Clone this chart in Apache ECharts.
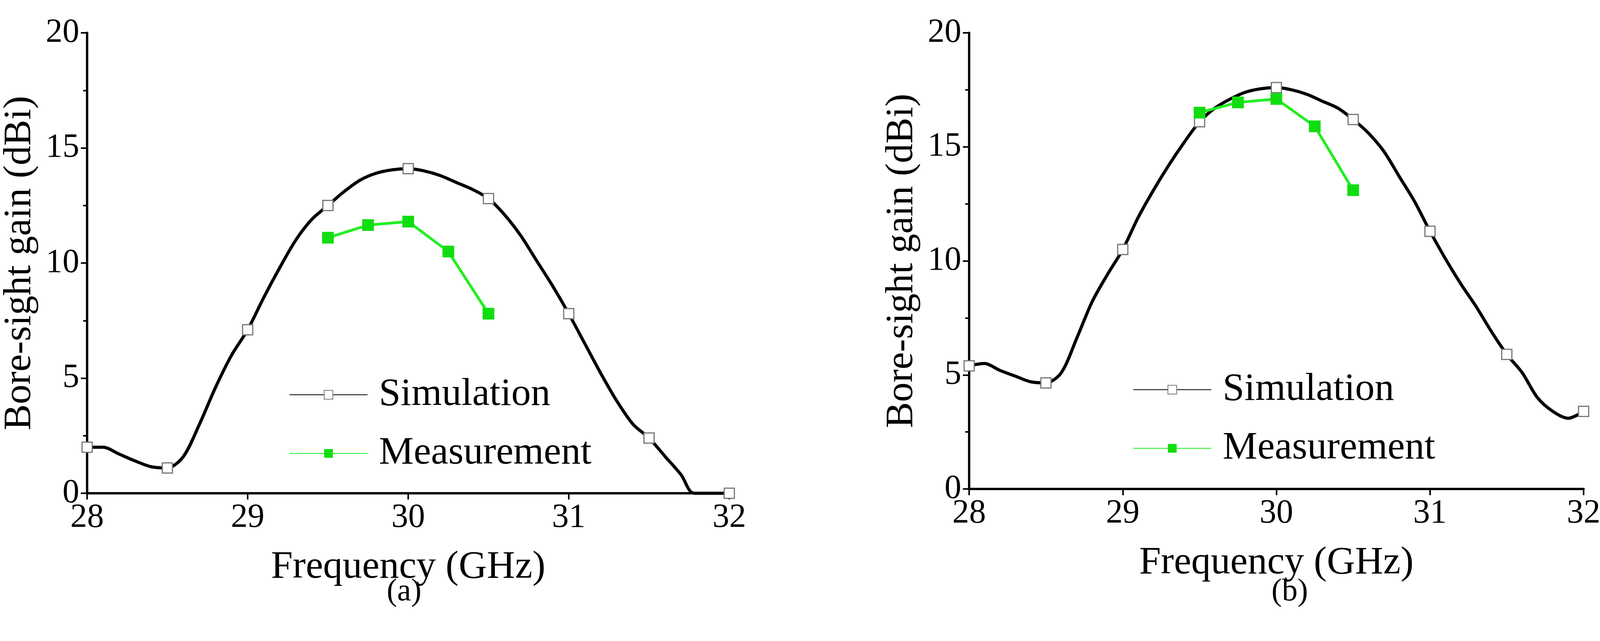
<!DOCTYPE html>
<html>
<head>
<meta charset="utf-8">
<script src="https://cdn.jsdelivr.net/npm/echarts@6/dist/echarts.min.js"></script>
<style>html,body{margin:0;background:#fff}#c{width:4100px;height:1640px}</style>
</head>
<body>
<div id="c"></div>
<script>
// frequency (GHz) samples
const freqA = [28,28.1,28.2,28.3,28.4,28.5,28.6,28.7,28.8,28.9,29,29.1,29.2,29.3,29.4,29.5,29.6,29.7,29.8,29.9,30,30.1,30.2,30.3,30.4,30.5,30.6,30.7,30.8,30.9,31,31.1,31.2,31.3,31.4,31.5,31.6,31.7,31.78,32];
const simA = [2.0,2.0,1.7,1.4,1.15,1.1,1.6,3.0,4.6,6.0,7.1,8.5,9.8,11.0,11.9,12.5,13.1,13.6,13.9,14.05,14.1,14.0,13.8,13.5,13.2,12.8,12.1,11.2,10.1,9.0,7.8,6.5,5.2,4.0,3.0,2.4,1.6,0.8,0,0];
const freqB = [28,28.1,28.2,28.3,28.4,28.5,28.6,28.7,28.8,28.9,29,29.1,29.2,29.3,29.4,29.5,29.6,29.7,29.8,29.9,30,30.1,30.2,30.3,30.4,30.5,30.6,30.7,30.8,30.9,31,31.1,31.2,31.3,31.4,31.5,31.6,31.7,31.8,31.9,32];
const simB = [5.4,5.5,5.2,4.95,4.7,4.65,5.1,6.6,8.2,9.4,10.5,11.9,13.1,14.2,15.2,16.1,16.7,17.1,17.4,17.55,17.6,17.5,17.3,17.0,16.7,16.2,15.6,14.8,13.7,12.6,11.3,10.1,9.0,8.0,6.9,5.9,5.1,4.0,3.4,3.1,3.4];
const measFreq = [29.5,29.75,30,30.25,30.5];
const measA = [11.1,11.65,11.8,10.5,7.8];
const measB = [16.5,16.95,17.1,15.9,13.1];
const xTicks = [28,29,30,31,32];
const yTicks = [0,5,10,15,20];

const font = "Liberation Serif";
const pair = (xs, ys) => xs.map((x, i) => [x, ys[i]]);
const markSize = (v) => (Math.abs(v[0] * 2 - Math.round(v[0] * 2)) < 1e-6 ? 26 : 0);

function axes(gi) {
  const common = {
    gridIndex: gi,
    axisLine: { lineStyle: { color: "#000", width: 6 } },
    axisTick: { length: 16, lineStyle: { color: "#000", width: 4 } },
    minorTick: { show: true, splitNumber: 2, length: 10, lineStyle: { color: "#000", width: 4 } },
    splitLine: { show: false },
    axisLabel: { color: "#000", fontFamily: font, fontSize: 86, margin: 20 }
  };
  return {
    x: Object.assign({}, common, {
      type: "value", min: xTicks[0], max: xTicks[xTicks.length - 1], interval: 1,
      minorTick: { show: false },
      name: "Frequency (GHz)", nameLocation: "middle", nameGap: 140,
      nameTextStyle: { color: "#000", fontFamily: font, fontSize: 100 }
    }),
    y: Object.assign({}, common, {
      type: "value", min: yTicks[0], max: yTicks[yTicks.length - 1], interval: 5,
      name: "Bore-sight gain (dBi)", nameLocation: "middle", nameGap: 122,
      nameTextStyle: { color: "#000", fontFamily: font, fontSize: 100 }
    })
  };
}
const a0 = axes(0), a1 = axes(1);

function sim(gi, data) {
  return {
    name: "Simulation", type: "line", xAxisIndex: gi, yAxisIndex: gi,
    data: data, smooth: 0.3, symbol: "rect", symbolSize: markSize, showAllSymbol: true,
    lineStyle: { color: "#000", width: 8 },
    itemStyle: { color: "#fff", borderColor: "#777", borderWidth: 3 }
  };
}
function meas(gi, data) {
  return {
    name: "Measurement", type: "line", xAxisIndex: gi, yAxisIndex: gi,
    data: data, symbol: "rect", symbolSize: 30,
    lineStyle: { color: "#22ee22", width: 7 },
    itemStyle: { color: "#11dd11" }
  };
}
function legend(left, top) {
  return {
    left: left, top: top, orient: "vertical", itemGap: 50,
    itemWidth: 200, itemHeight: 28,
    textStyle: { color: "#000", fontFamily: font, fontSize: 100, padding: [0, 0, 0, 24] },
    data: ["Simulation", "Measurement"]
  };
}

const chart = echarts.init(document.getElementById("c"));
chart.setOption({
  animation: false,
  backgroundColor: "#fff",
  grid: [
    { left: 197, right: 2233, top: 84, bottom: 378 },
    { left: 2481, right: 43, top: 84, bottom: 389 }
  ],
  xAxis: [a0.x, a1.x],
  yAxis: [a0.y, a1.y],
  legend: [legend(735, 955), legend(2895, 942)],
  series: [
    sim(0, pair(freqA, simA)), meas(0, pair(measFreq, measA)),
    sim(1, pair(freqB, simB)), meas(1, pair(measFreq, measB))
  ],
  graphic: [
    { type: "text", left: 990, top: 1475, style: { text: "(a)", font: "80px " + font, fill: "#000" } },
    { type: "text", left: 3255, top: 1475, style: { text: "(b)", font: "80px " + font, fill: "#000" } }
  ]
});
</script>
</body>
</html>
